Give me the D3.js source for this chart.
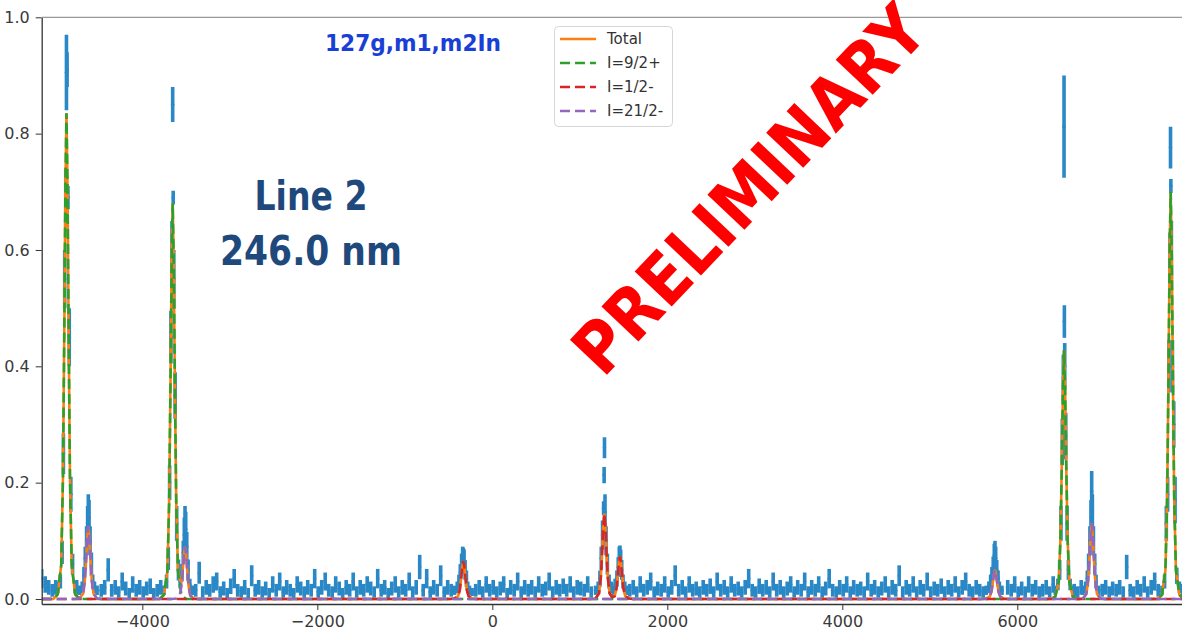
<!DOCTYPE html>
<html lang="en">
<head>
<meta charset="UTF-8">
<title>127g,m1,m2In - Line 2</title>
<script src="https://d3js.org/d3.v7.min.js"></script>
<style>
  body { margin: 0; background: #fff; }
  svg text { font-family: "DejaVu Sans", sans-serif; }
</style>
</head>
<body>
<div id="chart"></div>
<script>
// ---- values ----
const xTicks = [-4000, -2000, 0, 2000, 4000, 6000];
const yTicks = [0, 0.2, 0.4, 0.6, 0.8, 1.0];

// background data, one point every 40 units starting at -5150
// null = inside a peak, those points are listed in peakData
const bgStart = -5150, bgStep = 40;
const bgValues = [
  .035, .025, .02, .015, .02, null, null, null, null, null,
  .02, null, null, null, null, null, null, .015, .02, .05,
  .015, .02, .012, .03, .018, .01, .025, .015, .02, .012,
  .018, .022, .01, .015, .02, null, null, null, null, null,
  null, null, null, null, .015, .045, .012, .02, .015, .025,
  .03, .012, .018, .01, .022, .035, .015, .012, .02, .01,
  .04, .015, .02, .012, .018, .01, .025, .015, .03, .012,
  .02, .015, .01, .025, .018, .012, .02, .015, .035, .012,
  .02, .03, .015, .012, .025, .018, .01, .02, .015, .03,
  .012, .02, .015, .025, .018, .012, .035, .015, .02, .01,
  .018, .025, .012, .02, .015, .03, .012, .02, .055, .015,
  .035, .012, .02, .015, .04, .012, .02, .015, null, null,
  null, null, null, null, .015, .02, .012, .025, .015, .02,
  .012, .018, .025, .01, .02, .015, .03, .012, .02, .015,
  .02, .012, .025, .015, .018, .03, .012, .02, .015, .022,
  .015, .025, .012, .02, .018, .015, .025, .012, null, null,
  null, null, null, null, null, null, null, null, .015, .02,
  .012, .025, .015, .02, .03, .012, .018, .015, .025, .012,
  .02, .04, .015, .02, .012, .025, .015, .018, .012, .02,
  .015, .022, .012, .03, .015, .02, .012, .025, .015, .018,
  .012, .02, .035, .015, .012, .022, .015, .02, .012, .03,
  .015, .02, .012, .018, .025, .012, .02, .015, .03, .012,
  .02, .015, .025, .012, .018, .035, .015, .012, .02, .015,
  .025, .012, .02, .015, .018, .012, .03, .015, .02, .012,
  .018, .025, .012, .02, .015, .04, .012, .02, .015, .025,
  .012, .02, .015, .03, .012, .018, .015, .022, .012, .02,
  .015, .025, .012, .02, .03, .015, .012, .02, .015, .012,
  null, null, null, null, null, null, .02, .015, .025, .012,
  .018, .012, .025, .015, .02, .012, .015, .02, .012, .025,
  null, null, null, null, null, .015, .012, .02, null, null,
  null, null, null, .015, .02, .012, .018, .015, .02, .012,
  .055, .015, .012, .02, .015, .025, .012, .02, .03, .015,
  null, null, null, null, null, null, .015, .02, .012, .018
];
const bgErrScale = 0.008; // counting error: err = sqrt(value * scale)

// data points on and around the peaks: [x, y, err]
const peakData = [
  [-4967,.02,.01],[-4937,.03,.012],[-4917,.08,.02],[-4902,.25,.035],[-4887,.55,.05],[-4875,.69,.05],
  [-4867,.905,.065],[-4860,.91,.03],[-4850,.69,.02],[-4835,.45,.05],[-4817,.18,.03],[-4797,.06,.018],[-4767,.02,.01],
  [-4717,.015,.008],[-4687,.02,.01],[-4667,.04,.015],[-4652,.07,.02],[-4637,.1,.025],[-4625,.13,.03],
  [-4617,.15,.03],[-4609,.14,.03],[-4597,.1,.025],[-4582,.06,.02],[-4567,.03,.012],[-4547,.02,.01],[-4517,.015,.008],
  [-3753,.015,.008],[-3723,.03,.012],[-3703,.07,.02],[-3688,.2,.03],[-3673,.45,.045],[-3661,.6,.05],
  [-3653,.85,.03],[-3647,.69,.012],[-3640,.55,.05],[-3625,.35,.04],[-3607,.13,.03],[-3587,.05,.018],
  [-3567,.03,.012],[-3547,.045,.015],[-3532,.08,.02],[-3520,.11,.03],[-3512,.13,.03],[-3504,.12,.03],
  [-3492,.09,.025],[-3477,.05,.018],[-3457,.025,.01],[-3427,.015,.008],
  [-431,.015,.008],[-401,.02,.01],[-381,.03,.012],[-366,.045,.015],[-351,.06,.018],[-339,.07,.02],
  [-331,.068,.02],[-323,.065,.02],[-311,.05,.017],[-296,.035,.014],[-281,.02,.01],[-261,.015,.008],[-231,.012,.007],
  [1180,.015,.008],[1210,.02,.01],[1230,.035,.014],[1245,.07,.02],[1260,.11,.025],[1272,.156,.012],
  [1278,.213,.014],[1282,.26,.018],[1288,.15,.03],[1300,.1,.025],[1315,.06,.018],[1335,.03,.012],[1360,.02,.01],
  [1384,.015,.008],[1404,.025,.01],[1424,.035,.014],[1439,.055,.017],[1451,.07,.02],[1459,.072,.02],
  [1467,.065,.02],[1479,.05,.017],[1494,.03,.012],[1514,.02,.01],[1540,.015,.008],
  [5645,.015,.008],[5675,.02,.01],[5695,.03,.012],[5710,.04,.015],[5725,.055,.018],[5737,.075,.02],
  [5745,.08,.02],[5753,.07,.02],[5765,.05,.017],[5780,.035,.014],[5795,.02,.01],[5825,.015,.008],
  [6434,.015,.008],[6464,.025,.01],[6484,.05,.017],[6499,.13,.03],[6514,.27,.04],[6526,.38,.04],
  [6534,.812,.088],[6538,.477,.028],[6542,.4,.04],[6554,.28,.04],[6569,.13,.03],[6584,.05,.017],[6604,.025,.01],[6634,.015,.008],
  [6750,.015,.008],[6780,.02,.01],[6800,.035,.014],[6815,.06,.018],[6830,.1,.025],[6842,.14,.03],
  [6850,.185,.035],[6858,.15,.03],[6870,.1,.025],[6885,.06,.018],[6900,.03,.012],[6930,.015,.008],
  [7653,.015,.008],[7683,.03,.012],[7703,.13,.03],[7718,.18,.03],[7733,.4,.045],[7745,.58,.05],
  [7751,.776,.036],[7755,.71,.012],[7761,.6,.05],[7773,.4,.045],[7788,.3,.04],[7803,.17,.04],[7823,.04,.014],[7853,.02,.01]
];

// fitted curves: [x, y]
const total = [
  [-5150,0],
  [-5017,0],[-4967,.008],[-4927,.058],[-4907,.209],[-4892,.459],[-4879,.71],[-4867,.835],[-4855,.71],[-4842,.459],[-4827,.209],[-4807,.058],[-4767,.008],
  [-4717,.001],[-4677,.009],[-4657,.031],[-4642,.069],[-4629,.106],[-4617,.125],[-4605,.106],[-4592,.069],[-4577,.031],[-4557,.009],[-4517,.001],[-4467,0],
  [-3803,0],[-3753,.007],[-3713,.048],[-3693,.17],[-3678,.374],[-3665,.578],[-3653,.68],[-3641,.578],[-3628,.374],[-3613,.171],[-3593,.051],
  [-3572,.033],[-3553,.03],[-3537,.053],[-3524,.077],[-3512,.09],[-3500,.077],[-3487,.05],[-3472,.023],[-3452,.006],[-3412,.001],[-3362,0],
  [-481,0],[-431,.001],[-391,.005],[-371,.016],[-356,.036],[-343,.055],[-331,.065],[-319,.055],[-306,.036],[-291,.016],[-271,.005],[-231,.001],[-181,0],
  [1130,0],[1180,.001],[1220,.01],[1240,.037],[1255,.081],[1268,.125],[1280,.147],[1292,.125],[1305,.081],[1320,.037],[1340,.01],[1370,.003],
  [1399,.005],[1419,.018],[1434,.04],[1447,.062],[1459,.073],[1471,.062],[1484,.04],[1499,.018],[1519,.005],[1559,.001],[1609,0],
  [5595,0],[5645,.001],[5685,.004],[5705,.013],[5720,.028],[5733,.043],[5745,.05],[5757,.043],[5770,.028],[5785,.013],[5805,.004],[5845,.001],[5895,0],
  [6384,0],[6434,.004],[6474,.03],[6494,.107],[6509,.235],[6522,.364],[6534,.428],[6546,.364],[6559,.235],[6574,.107],[6594,.03],[6634,.004],[6684,0],
  [6700,0],[6750,.001],[6790,.009],[6810,.033],[6825,.072],[6838,.11],[6850,.13],[6862,.11],[6875,.072],[6890,.033],[6910,.009],[6950,.001],[7000,0],
  [7603,0],[7653,.007],[7693,.049],[7713,.175],[7728,.385],[7741,.595],[7753,.70],[7765,.595],[7778,.385],[7793,.175],[7813,.049],[7853,.007],[7903,0],
  [8000,0]
];
const i92 = [
  [-5150,0],
  [-5017,0],[-4967,.008],[-4927,.058],[-4907,.209],[-4892,.459],[-4879,.71],[-4867,.835],[-4855,.71],[-4842,.459],[-4827,.209],[-4807,.058],[-4767,.008],[-4717,0],
  [-3803,0],[-3753,.007],[-3713,.048],[-3693,.17],[-3678,.374],[-3665,.578],[-3653,.68],[-3641,.578],[-3628,.374],[-3613,.17],[-3593,.048],[-3553,.007],[-3503,0],
  [6384,0],[6434,.004],[6474,.03],[6494,.107],[6509,.235],[6522,.364],[6534,.428],[6546,.364],[6559,.235],[6574,.107],[6594,.03],[6634,.004],[6684,0],
  [7603,0],[7653,.007],[7693,.049],[7713,.175],[7728,.385],[7741,.595],[7753,.70],[7765,.595],[7778,.385],[7793,.175],[7813,.049],[7853,.007],[7903,0],
  [8000,0]
];
const i12 = [
  [-5150,0],
  [-481,0],[-431,.001],[-391,.005],[-371,.016],[-356,.036],[-343,.055],[-331,.065],[-319,.055],[-306,.036],[-291,.016],[-271,.005],[-231,.001],[-181,0],
  [1130,0],[1180,.001],[1220,.01],[1240,.037],[1255,.081],[1268,.125],[1280,.147],[1292,.125],[1305,.081],[1320,.037],[1340,.01],[1370,.003],
  [1399,.005],[1419,.018],[1434,.04],[1447,.062],[1459,.073],[1471,.062],[1484,.04],[1499,.018],[1519,.005],[1559,.001],[1609,0],
  [8000,0]
];
const i212 = [
  [-5150,0],
  [-4767,0],[-4717,.001],[-4677,.009],[-4657,.031],[-4642,.069],[-4629,.106],[-4617,.125],[-4605,.106],[-4592,.069],[-4577,.031],[-4557,.009],[-4517,.001],[-4467,0],
  [-3662,0],[-3612,.001],[-3572,.006],[-3552,.023],[-3537,.05],[-3524,.077],[-3512,.09],[-3500,.077],[-3487,.05],[-3472,.023],[-3452,.006],[-3412,.001],[-3362,0],
  [5595,0],[5645,.001],[5685,.004],[5705,.013],[5720,.028],[5733,.043],[5745,.05],[5757,.043],[5770,.028],[5785,.013],[5805,.004],[5845,.001],[5895,0],
  [6700,0],[6750,.001],[6790,.009],[6810,.033],[6825,.072],[6838,.11],[6850,.13],[6862,.11],[6875,.072],[6890,.033],[6910,.009],[6950,.001],[7000,0],
  [8000,0]
];

const seriesNames = ["Total", "I=9/2+", "I=1/2-", "I=21/2-"];

// ---- drawing ----
const width = 1182, height = 632;
const svg = d3.select("#chart").append("svg").attr("width", width).attr("height", height);

const x = d3.scaleLinear().domain([-5150, 8000]).range([41.7, 1192.3]);
const y = d3.scaleLinear().domain([-0.0086, 1.0]).range([604, 17.3]);

svg.append("clipPath").attr("id", "plot")
  .append("rect").attr("x", 41.7).attr("y", 17.3).attr("width", 1192.3 - 41.7).attr("height", 604 - 17.3);

const plot = svg.append("g").attr("clip-path", "url(#plot)");

// data with error bars (no connecting line)
const points = bgValues
  .map((v, i) => v === null ? null : [bgStart + i * bgStep, v, Math.sqrt(v * bgErrScale)])
  .filter(d => d !== null)
  .concat(peakData)
  .sort((a, b) => a[0] - b[0]);

const blue = "#2a88c6";
plot.append("g").selectAll("line").data(points).enter().append("line")
  .attr("x1", d => x(d[0])).attr("x2", d => x(d[0]))
  .attr("y1", d => y(d[1] - d[2])).attr("y2", d => y(d[1] + d[2]))
  .attr("stroke", blue).attr("stroke-width", 3.6);
plot.append("g").selectAll("circle").data(points).enter().append("circle")
  .attr("cx", d => x(d[0])).attr("cy", d => y(d[1])).attr("r", 1.8)
  .attr("fill", blue);

// fit curves
const line = d3.line().x(d => x(d[0])).y(d => y(d[1]));
const curves = [
  { data: total, color: "#ff7f0e", dash: null },
  { data: i92, color: "#2ca02c", dash: "10,5" },
  { data: i12, color: "#d62728", dash: "10,5" },
  { data: i212, color: "#9467bd", dash: "10,5" }
];
curves.forEach(c => {
  plot.append("path").datum(c.data)
    .attr("d", line)
    .attr("fill", "none")
    .attr("stroke", c.color)
    .attr("stroke-width", 2.6)
    .attr("stroke-dasharray", c.dash);
});

// axes
const fmtX = d => d < 0 ? "\u2212" + Math.abs(d) : String(d);
const xAxis = svg.append("g").attr("transform", "translate(0,604)")
  .call(d3.axisBottom(x).tickValues(xTicks).tickFormat(fmtX).tickSize(6).tickSizeOuter(0).tickPadding(6));
const yAxis = svg.append("g").attr("transform", "translate(41.7,0)")
  .call(d3.axisLeft(y).tickValues(yTicks).tickFormat(d3.format(".1f")).tickSize(6).tickSizeOuter(0).tickPadding(6));
[xAxis, yAxis].forEach(a => {
  a.selectAll("text").attr("font-size", 16).attr("fill", "#3a3a3a")
    .attr("font-family", "DejaVu Sans, sans-serif");
  a.selectAll("line").attr("stroke", "#333");
  a.select(".domain").attr("stroke", "#333").attr("stroke-width", 1.3);
});
svg.append("line").attr("x1", 41.7).attr("x2", width).attr("y1", 17.3).attr("y2", 17.3)
  .attr("stroke", "#999").attr("stroke-width", 1.3);

// legend
const lg = svg.append("g");
lg.append("rect").attr("x", 554.5).attr("y", 26.5).attr("width", 118).attr("height", 100).attr("rx", 4)
  .attr("fill", "#fff").attr("fill-opacity", 0.85).attr("stroke", "#d6d6d6");
seriesNames.forEach((name, i) => {
  const ly = 39 + i * 24;
  lg.append("line").attr("x1", 560).attr("x2", 596).attr("y1", ly).attr("y2", ly)
    .attr("stroke", curves[i].color).attr("stroke-width", 2.6)
    .attr("stroke-dasharray", curves[i].dash);
  lg.append("text").attr("x", 607).attr("y", ly).attr("dy", "0.36em")
    .attr("font-size", 15).attr("fill", "#333").text(name);
});

// annotations
svg.append("text").attr("x", 413).attr("y", 51).attr("text-anchor", "middle")
  .attr("font-family", "Liberation Sans, Arial, sans-serif").attr("font-weight", "bold")
  .attr("font-size", 23).attr("fill", "#1a3fd6")
  .attr("textLength", 176).attr("lengthAdjust", "spacingAndGlyphs")
  .text("127g,m1,m2In");

svg.append("text").attr("x", 311).attr("y", 210).attr("text-anchor", "middle")
  .attr("font-family", "Lato, sans-serif").attr("font-weight", "bold")
  .attr("font-size", 41).attr("fill", "#1f497d")
  .attr("textLength", 113).attr("lengthAdjust", "spacingAndGlyphs")
  .text("Line 2");
svg.append("text").attr("x", 311).attr("y", 265).attr("text-anchor", "middle")
  .attr("font-family", "Lato, sans-serif").attr("font-weight", "bold")
  .attr("font-size", 41).attr("fill", "#1f497d")
  .attr("textLength", 182).attr("lengthAdjust", "spacingAndGlyphs")
  .text("246.0 nm");

svg.append("text").attr("x", 603).attr("y", 379)
  .attr("transform", "rotate(-46.5,603,379)")
  .attr("font-family", "Lato, sans-serif").attr("font-weight", "bold")
  .attr("font-size", 70).attr("fill", "#ff0000")
  .attr("textLength", 476).attr("lengthAdjust", "spacingAndGlyphs")
  .text("PRELIMINARY");
</script>
</body>
</html>
